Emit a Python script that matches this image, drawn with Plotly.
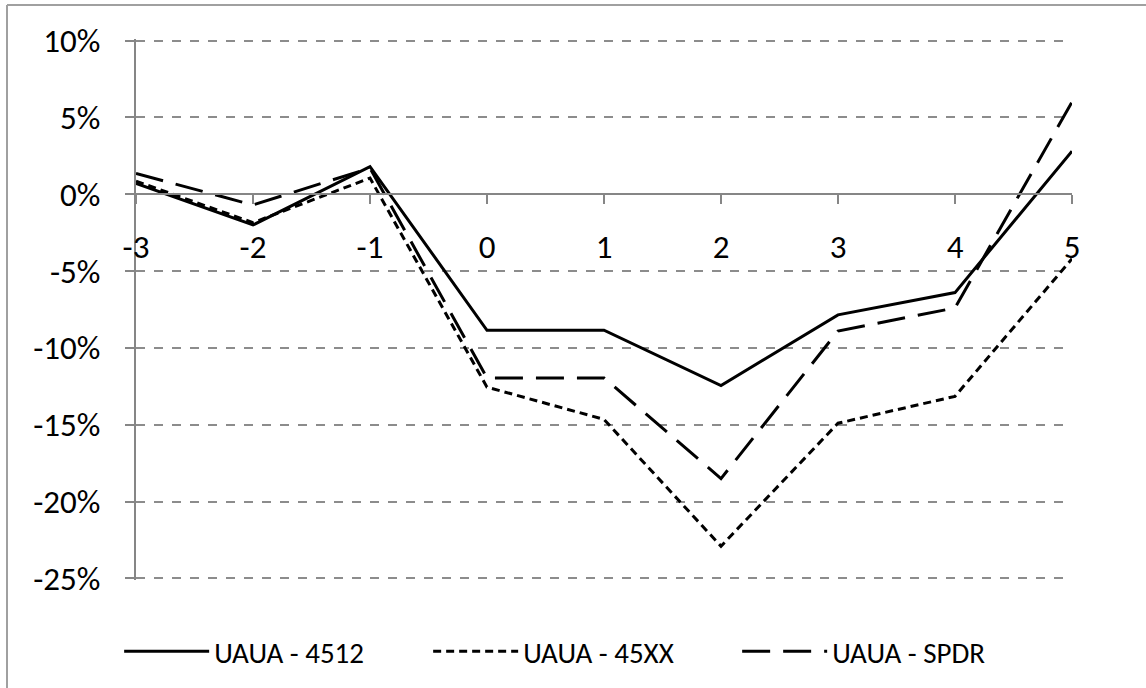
import plotly.graph_objects as go

# ------------------------ DATA ------------------------------------
days = [-3, -2, -1, 0, 1, 2, 3, 4, 5]
uaua_4512 = [0.7, -2.0, 1.8, -8.85, -8.85, -12.45, -7.85, -6.4, 2.8]
uaua_45xx = [0.85, -1.85, 1.05, -12.55, -14.65, -22.9, -14.9, -13.15, -4.2]
uaua_spdr = [1.35, -0.7, 1.7, -11.95, -11.95, -18.5, -8.9, -7.4, 6.0]

x_tick_vals = [-3, -2, -1, 0, 1, 2, 3, 4, 5]
x_tick_text = ['-3', '-2', '-1', '0', '1', '2', '3', '4', '5']
y_tick_vals = [10, 5, 0, -5, -10, -15, -20, -25]
y_tick_text = ['10%', '5%', '0%', '-5%', '-10%', '-15%', '-20%', '-25%']

font_family = 'Carlito, Calibri, Lato, sans-serif'
axis_grey = 'rgb(134,134,134)'
y_lo, y_hi = -25.1, 10.1   # small pad so the edge gridlines are not clipped

# ------------------------ PLOT ------------------------------------
fig = go.Figure()
fig.add_trace(go.Scatter(x=days, y=uaua_4512, mode='lines', name='UAUA - 4512',
                         line=dict(color='black', width=3)))
fig.add_trace(go.Scatter(x=days, y=uaua_45xx, mode='lines', name='UAUA - 45XX',
                         line=dict(color='black', width=3, dash='8px,5px')))
fig.add_trace(go.Scatter(x=days, y=uaua_spdr, mode='lines', name='UAUA - SPDR',
                         line=dict(color='black', width=3, dash='28px,13px')))

fig.update_layout(
    width=1146,
    height=688,
    paper_bgcolor='white',
    plot_bgcolor='white',
    margin=dict(l=136, r=74, t=39, b=108, autoexpand=False),
    font=dict(family=font_family, size=33, color='black'),
    showlegend=True,
    legend=dict(
        orientation='h',
        x=-0.018, xanchor='left',
        y=-0.132, yanchor='middle',
        itemwidth=85,
        entrywidth=209,
        font=dict(size=29),
        bgcolor='rgba(0,0,0,0)',
    ),
    xaxis=dict(
        range=[-3, 5],
        anchor='free',
        position=-y_lo / (y_hi - y_lo),
        tickvals=x_tick_vals,
        ticktext=x_tick_text,
        showline=True,
        linecolor=axis_grey,
        linewidth=2,
        ticks='outside',
        ticklen=9,
        tickwidth=2,
        tickcolor=axis_grey,
        ticklabelstandoff=14,
        showgrid=False,
        zeroline=False,
    ),
    yaxis=dict(
        range=[y_lo, y_hi],
        tickvals=y_tick_vals,
        ticktext=y_tick_text,
        showline=True,
        linecolor=axis_grey,
        linewidth=2,
        ticks='outside',
        ticklen=9,
        tickwidth=2,
        tickcolor=axis_grey,
        ticklabelstandoff=18,
        showgrid=True,
        gridcolor='rgb(140,140,140)',
        gridwidth=1.5,
        griddash='dash',
        zeroline=False,
    ),
)

# outer frame (top and left edges of the pasted chart)
fig.add_shape(type='line', xref='paper', yref='paper',
              x0=(7 - 136) / 936, x1=(1146 - 136) / 936,
              y0=(580 - 5) / 541, y1=(580 - 5) / 541,
              line=dict(color='rgb(160,160,160)', width=2))
fig.add_shape(type='line', xref='paper', yref='paper',
              x0=(7 - 136) / 936, x1=(7 - 136) / 936,
              y0=(580 - 5) / 541, y1=(580 - 688) / 541,
              line=dict(color='rgb(160,160,160)', width=2))

# drop the default 8px body margin so the figure sits at the window corner
fig.write_html("out.html", config={'displayModeBar': False},
               post_script="document.body.style.margin='0';")
